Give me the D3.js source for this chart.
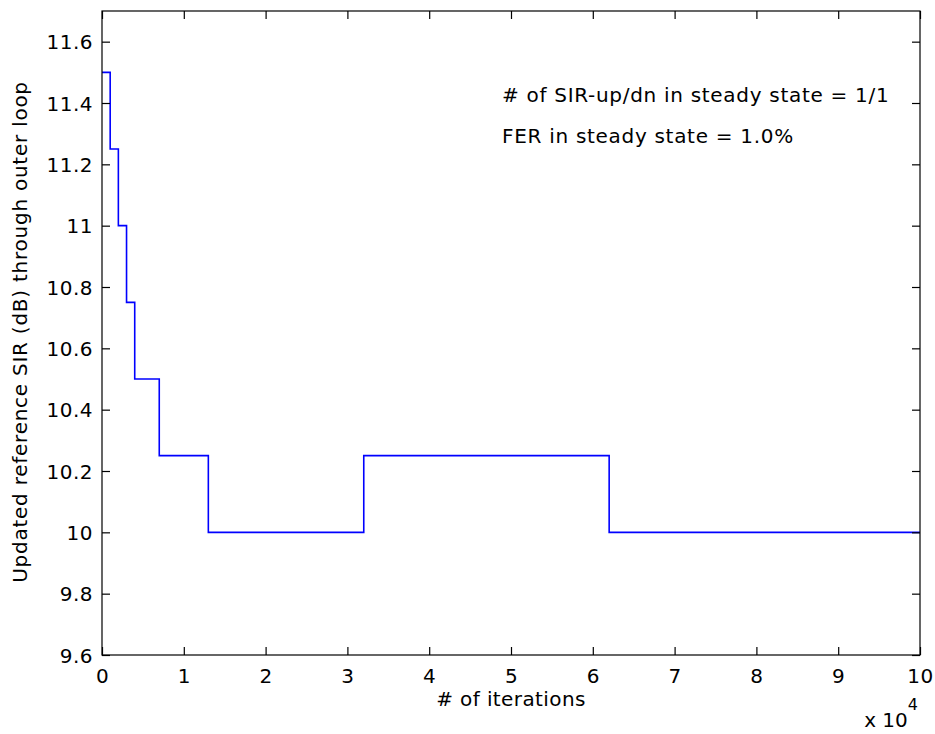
<!DOCTYPE html>
<html>
<head>
<meta charset="utf-8">
<script src="https://cdn.jsdelivr.net/npm/d3@7/dist/d3.min.js"></script>
<style>
  body { margin: 0; background: #fff; }
  text { font-family: "DejaVu Sans", sans-serif; fill: #000; }
  .lbl { letter-spacing: 0.7px; }
</style>
</head>
<body>
<div id="viz"></div>
<script>
// step edges (iterations) and the level held from each edge to the next
var stepEdges = [0, 1000, 2000, 3000, 4000, 7000, 13000, 32000, 62000, 100000];
var stepLevels = [11.5, 11.25, 11.0, 10.75, 10.5, 10.25, 10.0, 10.25, 10.0];
var xTicks = [0, 1, 2, 3, 4, 5, 6, 7, 8, 9, 10];
var yTicks = [9.6, 9.8, 10, 10.2, 10.4, 10.6, 10.8, 11, 11.2, 11.4, 11.6];
var notes = ["# of SIR-up/dn in steady state = 1/1", "FER in steady state = 1.0%"];

var W = 935, H = 734,
    margin = {top: 11, right: 15, bottom: 79, left: 102},
    width = W - margin.left - margin.right,
    height = H - margin.top - margin.bottom;

var svg = d3.select('#viz').append('svg')
    .attr('width', W)
    .attr('height', H);

var g = svg.append('g')
    .attr('transform', 'translate(' + margin.left + ',' + margin.top + ')');

var x = d3.scaleLinear().domain([0, 10]).range([0, width]);
var y = d3.scaleLinear().domain([9.6, 11.7]).range([height, 0]);

var fmtY = function(d) { return String(+d.toFixed(1)); };

// build step points
var pts = [];
for (var i = 0; i < stepLevels.length; i++) {
    pts.push([stepEdges[i] / 1e4, stepLevels[i]]);
    pts.push([stepEdges[i + 1] / 1e4, stepLevels[i]]);
}

var line = d3.line()
    .x(function(d) { return x(d[0]); })
    .y(function(d) { return y(d[1]); });

g.append('path')
    .datum(pts)
    .attr('d', line)
    .attr('fill', 'none')
    .attr('stroke', '#0000ff')
    .attr('stroke-width', 1.6);

// axes, ticks pointing inwards on all four sides
var tl = 8;
var axB = g.append('g').attr('transform', 'translate(0,' + height + ')')
    .call(d3.axisBottom(x).tickValues(xTicks).tickSize(-tl).tickPadding(14).tickFormat(d3.format('d')));
var axT = g.append('g')
    .call(d3.axisTop(x).tickValues(xTicks).tickSize(-tl).tickFormat(''));
var axL = g.append('g')
    .call(d3.axisLeft(y).tickValues(yTicks).tickSize(-tl).tickPadding(9).tickFormat(fmtY));
var axR = g.append('g').attr('transform', 'translate(' + width + ',0)')
    .call(d3.axisRight(y).tickValues(yTicks).tickSize(-tl).tickFormat(''));

[axB, axT, axL, axR].forEach(function(a) {
    a.select('.domain').remove();
    a.selectAll('line').attr('stroke', '#000').attr('stroke-width', 1.2);
    a.selectAll('text').style('font-size', '20px').style('letter-spacing', '0.5px').attr('fill', '#000');
});
axL.selectAll('text').attr('dy', '0.36em');

g.append('rect')
    .attr('width', width).attr('height', height)
    .attr('fill', 'none').attr('stroke', '#000').attr('stroke-width', 1.2);

// notes
g.selectAll('.note')
    .data(notes)
    .enter().append('text')
    .attr('class', 'note lbl')
    .attr('x', x(4.89))
    .attr('y', function(d, i) { return 91 + i * 41; })
    .style('font-size', '20px')
    .text(function(d) { return d; });

// labels
svg.append('text')
    .attr('class', 'lbl')
    .attr('x', margin.left + width / 2)
    .attr('y', 706)
    .attr('text-anchor', 'middle')
    .style('font-size', '20px')
    .style('letter-spacing', '0.4px')
    .text('# of iterations');

svg.append('text')
    .attr('class', 'lbl')
    .attr('transform', 'translate(27,' + 332 + ') rotate(-90)')
    .attr('text-anchor', 'middle')
    .style('font-size', '20px')
    .style('letter-spacing', '0.75px')
    .text('Updated reference SIR (dB) through outer loop');

var mult = svg.append('text')
    .attr('x', 918)
    .attr('y', 727)
    .attr('text-anchor', 'end')
    .style('font-size', '20px');
mult.append('tspan').text('x 10');
mult.append('tspan').attr('dy', -17).style('font-size', '16px').text('4');
</script>
</body>
</html>
